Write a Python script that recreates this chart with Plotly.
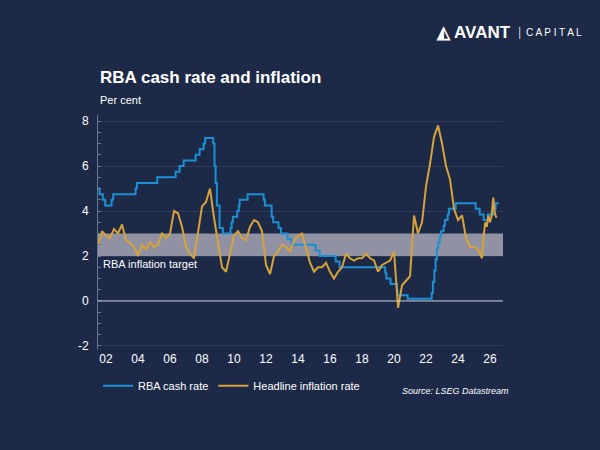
import plotly.graph_objects as go

# RBA cash rate: change dates (decimal year) and new level
cash_dates = [2001.5, 2001.6, 2001.8, 2001.95, 2002.35, 2002.45, 2003.85, 2003.93, 2005.2, 2006.35, 2006.6, 2006.85,
              2007.6, 2007.85, 2008.1, 2008.2, 2008.7, 2008.78, 2008.85, 2008.93, 2009.1, 2009.3, 2009.78, 2009.85,
              2009.93, 2010.2, 2010.3, 2010.35, 2010.85, 2011.85, 2011.93, 2012.35, 2012.45, 2012.78, 2012.93,
              2013.35, 2013.6, 2015.1, 2015.35, 2016.35, 2016.6, 2019.45, 2019.52, 2019.78, 2020.18, 2020.22, 2020.85,
              2022.35, 2022.43, 2022.52, 2022.6, 2022.68, 2022.76, 2022.85, 2022.93, 2023.1, 2023.18, 2023.35, 2023.43,
              2023.85, 2025.1, 2025.35, 2025.6, 2025.85, 2026.1, 2026.2, 2026.35, 2026.55]
cash_rate = [5.0, 4.75, 4.5, 4.25, 4.5, 4.75, 5.0, 5.25, 5.5, 5.75, 6.0, 6.25,
             6.5, 6.75, 7.0, 7.25, 7.0, 6.0, 5.25, 4.25, 3.25, 3.0, 3.25, 3.5,
             3.75, 4.0, 4.25, 4.5, 4.75, 4.5, 4.25, 3.75, 3.5, 3.25, 3.0,
             2.75, 2.5, 2.25, 2.0, 1.75, 1.5, 1.25, 1.0, 0.75, 0.5, 0.25, 0.1,
             0.35, 0.85, 1.35, 1.85, 2.35, 2.6, 2.85, 3.1, 3.35, 3.6, 3.85, 4.1,
             4.35, 4.1, 3.85, 3.6, 3.85, 3.85, 4.1, 4.35, 4.35]

infl_dates = [2001.5, 2001.75, 2002.0, 2002.25, 2002.5, 2002.75, 2003.0, 2003.25, 2003.5, 2003.75,
              2004.0, 2004.25, 2004.5, 2004.75, 2005.0, 2005.25, 2005.5, 2005.75, 2006.0, 2006.25,
              2006.5, 2006.75, 2007.0, 2007.25, 2007.5, 2007.75, 2008.0, 2008.25, 2008.5, 2008.75,
              2009.0, 2009.25, 2009.5, 2009.75, 2010.0, 2010.25, 2010.5, 2010.75, 2011.0, 2011.25,
              2011.5, 2011.75, 2012.0, 2012.25, 2012.5, 2012.75, 2013.0, 2013.25, 2013.5, 2013.75,
              2014.0, 2014.25, 2014.5, 2014.75, 2015.0, 2015.25, 2015.5, 2015.75, 2016.0, 2016.25,
              2016.5, 2016.75, 2017.0, 2017.25, 2017.5, 2017.75, 2018.0, 2018.25, 2018.5, 2018.75,
              2019.0, 2019.25, 2019.5, 2019.75, 2020.0, 2020.25, 2020.5, 2020.75, 2021.0, 2021.25,
              2021.5, 2021.75, 2022.0, 2022.25, 2022.5, 2022.75, 2023.0, 2023.25, 2023.5, 2023.75,
              2024.0, 2024.25, 2024.5, 2024.75, 2025.0, 2025.25, 2025.5, 2025.6, 2025.7, 2025.8,
              2025.9, 2026.0, 2026.1, 2026.2, 2026.3, 2026.4]
inflation = [2.5, 3.1, 2.9, 2.8, 3.2, 3.0, 3.4, 2.7, 2.6, 2.4,
             2.0, 2.5, 2.3, 2.6, 2.4, 2.5, 3.0, 2.8, 3.0, 4.0,
             3.9, 3.3, 2.4, 2.1, 1.9, 3.0, 4.2, 4.4, 5.0, 3.7,
             2.5, 1.5, 1.3, 2.1, 2.9, 3.1, 2.8, 2.7, 3.3, 3.6,
             3.5, 3.1, 1.6, 1.2, 2.0, 2.2, 2.5, 2.4, 2.2, 2.7,
             2.9, 3.0, 2.3, 1.7, 1.3, 1.5, 1.5, 1.7, 1.3, 1.0,
             1.3, 1.5, 2.1, 1.9, 1.8, 1.9, 1.9, 2.1, 1.9, 1.8,
             1.3, 1.6, 1.7, 1.8, 2.2, -0.3, 0.7, 0.9, 1.1, 3.8,
             3.0, 3.5, 5.1, 6.1, 7.3, 7.8, 7.0, 6.0, 5.4, 4.1,
             3.6, 3.8, 2.8, 2.4, 2.4, 2.3, 1.9, 2.9, 3.5, 3.3,
             3.8, 3.5, 3.8, 4.6, 3.9, 3.7]

target_low, target_high = 2, 3
tick_vals = list(range(2002, 2027, 2))
tick_text = [f"{v % 100:02d}" for v in tick_vals]
y_ticks = [-2, 0, 2, 4, 6, 8]
y_text = [str(v) for v in y_ticks]

BG = "#1c2a47"
fig = go.Figure()
fig.add_shape(type="rect", xref="x", yref="y", x0=2001.5, x1=2026.81, y0=target_low, y1=target_high,
              fillcolor="#a4a4b4", opacity=0.85, line_width=0, layer="below")
fig.add_shape(type="line", xref="x", yref="y", x0=2001.5, x1=2026.81, y0=0, y1=0,
              line=dict(color="#c8ccd6", width=1))
fig.add_trace(go.Scatter(x=cash_dates, y=cash_rate, mode="lines", line=dict(color="#1e8fd5", width=2, shape="hv"),
                         name="RBA cash rate"))
fig.add_trace(go.Scatter(x=infl_dates, y=inflation, mode="lines", line=dict(color="#d7a23a", width=2),
                         name="Headline inflation rate"))

font = "Liberation Sans, Arial"
fig.update_layout(
    width=600, height=450, paper_bgcolor=BG, plot_bgcolor=BG,
    margin=dict(l=98, r=97, t=115, b=100),
    font=dict(family=font, color="white", size=12),
    showlegend=True,
    legend=dict(orientation="h", x=0.0, y=-0.09, xanchor="left", yanchor="top",
                font=dict(size=11, color="white"), bgcolor="rgba(0,0,0,0)"),
    xaxis=dict(range=[2001.5, 2026.81], tickvals=tick_vals, ticktext=tick_text, showgrid=False,
               zeroline=False, showline=False, tickfont=dict(size=12, color="white")),
    yaxis=dict(range=[-2.18, 8.27], tickvals=y_ticks, ticktext=y_text, showgrid=True, gridcolor="#2c3b5a",
               zeroline=False, showline=True, linecolor="#6b7690", linewidth=1,
               ticks="outside", ticklen=0, ticklabelstandoff=6, tickfont=dict(size=12, color="white"),
               minor=dict(ticks="inside", ticklen=3, tickcolor="#6b7690", dtick=0.5, showgrid=False)),
    annotations=[
        dict(text="<b>RBA cash rate and inflation</b>", xref="paper", yref="paper", x=-0.0, y=1.16,
             xanchor="left", yanchor="middle", showarrow=False, font=dict(size=17, color="white")),
        dict(text="Per cent", xref="paper", yref="paper", x=-0.0, y=1.065, xanchor="left", yanchor="middle",
             showarrow=False, font=dict(size=11, color="white")),
        dict(text="RBA inflation target", xref="x", yref="y", x=2001.7, y=1.65, xanchor="left",
             yanchor="middle", showarrow=False, font=dict(size=11, color="white")),
        dict(text="<i>Source: LSEG Datastream</i>", xref="paper", yref="paper", x=1.02, y=-0.175,
             xanchor="right", yanchor="middle", showarrow=False, font=dict(size=9, color="white")),
        dict(text="<b>◭ AVANT</b>", xref="paper", yref="paper", x=1.025, y=1.349, xanchor="right",
             yanchor="middle", showarrow=False, font=dict(size=17, color="white")),
        dict(text="│ C A P I T A L", xref="paper", yref="paper", x=1.03, y=1.349, xanchor="left",
             yanchor="middle", showarrow=False, font=dict(size=10, color="white")),
    ],
)
fig.write_html("out.html", config={"displayModeBar": False},
               post_script="document.body.style.margin='0';document.body.style.background='#1c2a47';")
